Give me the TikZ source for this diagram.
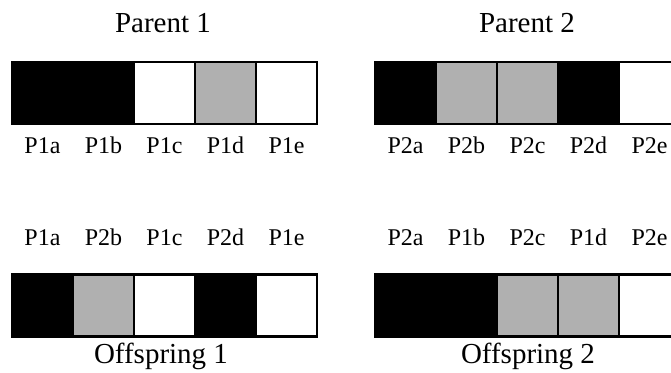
\documentclass[tikz,border=0pt]{standalone}
\usepackage{fontspec}
\setmainfont{Liberation Serif}
\usetikzlibrary{positioning}

\definecolor{genegray}{RGB}{176,176,176}

\tikzset{
  gene/.style={draw=black, line width=1.3pt, minimum width=30.5pt, minimum height=31pt, inner sep=0pt, outer sep=0pt},
  genelabel/.style={font=\fontsize{12}{14}\selectfont, inner sep=0pt, text height=8pt, text depth=0pt},
  bartitle/.style={font=\fontsize{14.5}{17}\selectfont, inner sep=0pt}
}

\begin{document}
\begin{tikzpicture}[x=0.5pt, y=-0.5pt]
    \clip (0,0) rectangle (671,373);

    % Parent 1
    \node[bartitle] (par1) at (163,23) {Parent 1};
    \foreach \g/\col/\x in {a/black/42.5, b/black/103.5, c/white/164.5, d/genegray/225.5, e/white/286.5}
        \node[gene, fill=\col] (p1\g) at (\x,93) {};
    \foreach \g in {a,b,c,d,e}
        \node[genelabel, below=6.5pt of p1\g] (lp1\g) {P1\g};

    % Parent 2
    \node[bartitle] (par2) at (527,23) {Parent 2};
    \foreach \g/\col/\x in {a/black/405.5, b/genegray/466.5, c/genegray/527.5, d/black/588.5, e/white/649.5}
        \node[gene, fill=\col] (p2\g) at (\x,93) {};
    \foreach \g in {a,b,c,d,e}
        \node[genelabel, below=6.5pt of p2\g] (lp2\g) {P2\g};

    % Offspring 1 (genes a, c, e from parent 1)
    \foreach \g/\col/\src/\x in {a/black/1/42.5, b/genegray/2/103.5, c/white/1/164.5, d/black/2/225.5, e/white/1/286.5} {
        \node[gene, fill=\col] (o1\g) at (\x,305.5) {};
        \node[genelabel, above=14.5pt of o1\g] (lo1\g) {P\src\g};
    }
    \node[bartitle] (off1) at (161,356) {Offspring 1};

    % Offspring 2 (genes a, c, e from parent 2)
    \foreach \g/\col/\src/\x in {a/black/2/405.5, b/black/1/466.5, c/genegray/2/527.5, d/genegray/1/588.5, e/white/2/649.5} {
        \node[gene, fill=\col] (o2\g) at (\x,305.5) {};
        \node[genelabel, above=14.5pt of o2\g] (lo2\g) {P\src\g};
    }
    \node[bartitle] (off2) at (528,356) {Offspring 2};
\end{tikzpicture}
\end{document}
